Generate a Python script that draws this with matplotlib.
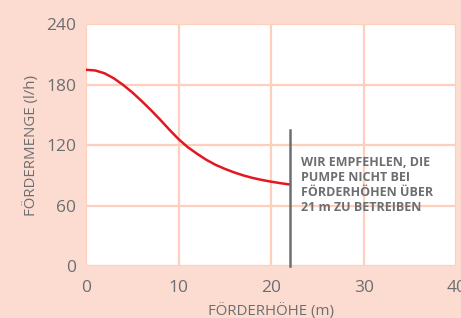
import matplotlib
matplotlib.use("Agg")
import matplotlib.pyplot as plt

# curve
hoehe = [0, 1, 2, 3, 4, 5, 6, 7, 8, 9, 10, 11, 12, 13, 14, 15, 16, 17, 18, 19, 20, 21, 22]
menge = [195, 194.3, 191.5, 186.5, 180, 172.5, 164, 155, 145.5, 135.5, 126, 118, 111.5,
         105.5, 100.5, 96.5, 93, 90, 87.5, 85.5, 83.8, 82.3, 81]
x_ticks = [0, 10, 20, 30, 40]
y_ticks = [0, 60, 120, 180, 240]
grenze_x = 22
grenze_top = 135
hinweis = "WIR EMPFEHLEN, DIE\nPUMPE NICHT BEI\nFÖRDERHÖHEN ÜBER\n21 m ZU BETREIBEN"

bg = "#fcdcd1"
grid_c = "#fdcfbc"
grey = "#6d6e71"

plt.rcParams['font.family'] = ['Open Sans', 'DejaVu Sans']

fig = plt.figure(figsize=(4.61, 3.18), dpi=100, facecolor=bg)
ax = fig.add_axes([0.1866, 0.1635, 0.8034, 0.7595])
ax.set_facecolor("white")

ax.set_xlim(0, 40)
ax.set_ylim(0, 240)
ax.set_xticks(x_ticks)
ax.set_yticks(y_ticks)
ax.grid(True, color=grid_c, linewidth=1.6)
ax.set_axisbelow(True)
for s in ax.spines.values():
    s.set_visible(False)
ax.tick_params(length=0, labelsize=12.5, labelcolor=grey)
ax.tick_params(axis="x", pad=10)
ax.tick_params(axis="y", pad=7)

ax.plot(hoehe, menge, color="#e3171f", linewidth=1.8, zorder=3)
ax.plot([grenze_x, grenze_x], [0, grenze_top], color=grey, linewidth=1.8, zorder=4,
        clip_on=False)

ax.text(0.581, 0.455, hinweis, transform=ax.transAxes, ha="left", va="top",
        fontsize=9, fontweight="bold", color=grey, linespacing=1.2)

ax.set_xlabel("FÖRDERHÖHE (m)", fontsize=10.8, color=grey, labelpad=5)
ax.set_ylabel("FÖRDERMENGE (l/h)", fontsize=10.8, color=grey, labelpad=5)

fig.savefig("out.png", dpi=100, facecolor=bg)
